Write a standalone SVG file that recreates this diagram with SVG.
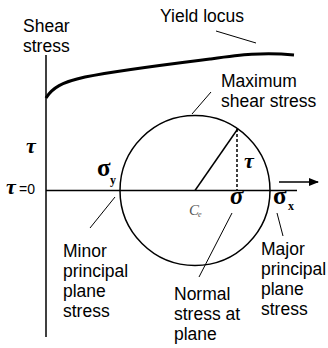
<svg xmlns="http://www.w3.org/2000/svg" width="328" height="348" viewBox="0 0 328 348">
<style>
.ln{stroke:#000;stroke-width:1.5;fill:none}
.th{stroke:#000;stroke-width:1;fill:none}
.lab{font-family:"Liberation Sans",Arial,sans-serif;font-size:17.5px;fill:#000}
.gr{font-family:"Liberation Serif","Times New Roman",serif;fill:#000}
</style>
<defs>
<marker id="ah" markerWidth="10" markerHeight="8" refX="9" refY="4" orient="auto" markerUnits="userSpaceOnUse">
<path d="M0,0 L10,4 L0,8 Z" fill="#000"/>
</marker>
</defs>
<g id="axes">
<line class="ln" x1="46" y1="55" x2="46" y2="337"/>
<line class="ln" x1="46" y1="190.5" x2="297" y2="190.5"/>
</g>
<g id="yield-locus">
<path d="M46,98 C52,88 62,82 85,77 C120,70 170,64 210,59 C240,55 262,52 294,55" stroke="#000" stroke-width="3" fill="none"/>
</g>
<g id="mohr-circle">
<circle class="ln" cx="195" cy="190.5" r="75"/>
<line class="ln" x1="195" y1="190.5" x2="238" y2="128.5"/>
<line x1="237" y1="129" x2="237" y2="190" stroke="#000" stroke-width="1.5" stroke-dasharray="3,2"/>
</g>
<g id="connectors">
<line class="th" x1="216" y1="31" x2="256" y2="43"/>
<line class="th" x1="211" y1="92" x2="192" y2="114"/>
<line class="th" x1="115" y1="197" x2="90" y2="228"/>
<line class="th" x1="232" y1="213" x2="199" y2="277"/>
<line class="th" x1="277" y1="213" x2="283" y2="236"/>
<line class="ln" x1="279" y1="182" x2="318" y2="182" marker-end="url(#ah)"/>
</g>
<g id="labels">
<text class="lab" x="23" y="32">Shear</text>
<text class="lab" x="23" y="52">stress</text>
<text class="lab" x="160" y="22">Yield locus</text>
<text class="lab" x="221" y="87">Maximum</text>
<text class="lab" x="221" y="107">shear stress</text>
<text class="lab" x="63" y="257">Minor</text>
<text class="lab" x="63" y="277">principal</text>
<text class="lab" x="63" y="297">plane</text>
<text class="lab" x="63" y="317">stress</text>
<text class="lab" x="174" y="300">Normal</text>
<text class="lab" x="174" y="320">stress at</text>
<text class="lab" x="174" y="340">plane</text>
<text class="lab" x="261" y="255">Major</text>
<text class="lab" x="261" y="275">principal</text>
<text class="lab" x="261" y="295">plane</text>
<text class="lab" x="261" y="315">stress</text>
</g>
<g id="symbols">
<text class="gr" x="26" y="153" font-size="22" font-style="italic" font-weight="bold">τ</text>
<text class="gr" x="6" y="194" font-size="22" font-style="italic" font-weight="bold">τ</text>
<text class="lab" x="19" y="194" style="font-size:14px">=0</text>
<text class="gr" x="97" y="176" font-size="25" font-weight="bold">σ</text>
<text class="gr" x="110" y="184" font-size="12" font-weight="bold">y</text>
<text class="gr" x="244" y="168" font-size="22" font-style="italic" font-weight="bold">τ</text>
<text class="gr" x="189" y="215" font-size="15" font-style="italic" style="fill:#555">C</text>
<text class="gr" x="198" y="217" font-size="8" font-style="italic" style="fill:#555">e</text>
<text class="gr" x="230" y="204" font-size="25" font-style="italic" font-weight="bold">σ</text>
<text class="gr" x="273" y="204" font-size="25" font-weight="bold">σ</text>
<text class="gr" x="288" y="210" font-size="12" font-weight="bold">x</text>
</g>
</svg>
